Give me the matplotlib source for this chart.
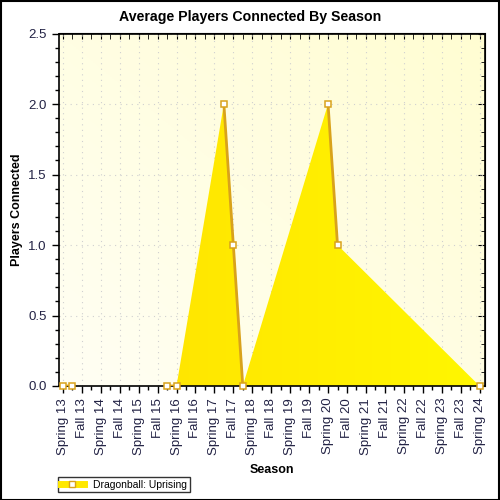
import matplotlib
matplotlib.use("Agg")
import matplotlib.pyplot as plt
import numpy as np
from matplotlib.ticker import MultipleLocator
from matplotlib.colors import LinearSegmentedColormap

plt.rcParams['font.family'] = ['Liberation Sans', 'DejaVu Sans']

# season labels, one per half-year
seasons = ['Spring 13', 'Fall 13', 'Spring 14', 'Fall 14', 'Spring 15', 'Fall 15',
           'Spring 16', 'Fall 16', 'Spring 17', 'Fall 17', 'Spring 18', 'Fall 18',
           'Spring 19', 'Fall 19', 'Spring 20', 'Fall 20', 'Spring 21', 'Fall 21',
           'Spring 22', 'Fall 22', 'Spring 23', 'Fall 23', 'Spring 24']
# sample positions (in season index units) and values
pos = [0, 0.5, 5.5, 6, 8.5, 9, 9.5, 14, 14.5, 22]
players = [0, 0, 0, 0, 2, 1, 0, 2, 1, 0]
series_name = 'Dragonball: Uprising'

fig = plt.figure(figsize=(5, 5), dpi=100)
ax = fig.add_axes([0.117, 0.228, 0.852, 0.705])
ax.set_xlim(-0.23, 22.26)
ax.set_ylim(0, 2.5)

# background gradient
bg = LinearSegmentedColormap.from_list('bg', ['#fffff4', '#fffdd2'])
gx, gy = np.meshgrid(np.linspace(0, 1, 200), np.linspace(0, 1, 200))
ax.imshow((gx + gy) / 2, cmap=bg, extent=[-0.23, 22.26, 0, 2.5], origin='lower',
          aspect='auto', zorder=0, vmin=0, vmax=1)

ax.grid(True, which='major', color='#d0d0d0', linestyle=(0, (1, 4)), linewidth=0.8, zorder=1)

# area with gradient fill
poly = ax.fill_between(pos, players, 0, color='none', zorder=2)
fillmap = LinearSegmentedColormap.from_list('fill', ['#ffe000', '#fff700'])
im = ax.imshow(gx, cmap=fillmap, extent=[-0.23, 22.26, 0, 2.5], origin='lower',
               aspect='auto', zorder=2)
im.set_clip_path(poly.get_paths()[0], transform=ax.transData)

# line only between neighbouring half-season samples
lx, ly = [pos[0]], [players[0]]
for i in range(1, len(pos)):
    if pos[i] - pos[i - 1] > 0.5:
        lx.append(np.nan)
        ly.append(np.nan)
    lx.append(pos[i])
    ly.append(players[i])
ax.plot(lx, ly, color='#d9a21b', linewidth=2, zorder=3)
ax.plot(pos, players, linestyle='none', marker='s', markersize=4.5, markerfacecolor='white',
        markeredgecolor='#d9a21b', markeredgewidth=1.1, zorder=4, clip_on=False)

# legend proxy
ax.plot([], [], color='#ffe800', linewidth=5, marker='s', markersize=4.5,
        markerfacecolor='white', markeredgecolor='#d9a21b', label=series_name)
leg = ax.legend(loc='upper left', bbox_to_anchor=(0.116, 0.046), bbox_transform=fig.transFigure,
                fontsize=7.5, frameon=True, fancybox=False, borderpad=0.25, handlelength=2.2,
                handletextpad=0.9, borderaxespad=0)
leg.get_frame().set_edgecolor('black')
leg.get_frame().set_linewidth(1)

ax.set_xticks(range(len(seasons)))
ax.set_xticklabels(seasons, rotation=90, fontsize=9.5)
ax.xaxis.set_minor_locator(MultipleLocator(0.5))
ax.yaxis.set_major_locator(MultipleLocator(0.5))
ax.yaxis.set_minor_locator(MultipleLocator(0.1))
ax.yaxis.set_major_formatter(matplotlib.ticker.FormatStrFormatter('%.1f'))
ax.tick_params(axis='y', labelsize=9.5, labelcolor='#222244')
ax.tick_params(axis='x', labelcolor='#222244')
ax.tick_params(which='major', direction='out', length=5, width=1)
ax.tick_params(which='minor', direction='out', length=3, width=1)
# inward ticks on top and right
axt = ax.secondary_xaxis('top')
axt.set_xticks(range(len(seasons)))
axt.xaxis.set_minor_locator(MultipleLocator(0.5))
axt.tick_params(which='both', direction='in', length=4, labeltop=False)
axr = ax.secondary_yaxis('right')
axr.yaxis.set_major_locator(MultipleLocator(0.5))
axr.yaxis.set_minor_locator(MultipleLocator(0.1))
axr.tick_params(which='major', direction='in', length=5, labelright=False)
axr.tick_params(which='minor', direction='in', length=3, labelright=False)
for s in ax.spines.values():
    s.set_linewidth(1.2)

fig.suptitle('Average Players Connected By Season', x=0.5, y=0.966, va='center',
             fontsize=10.2, fontweight='bold')
ax.set_xlabel('Season', fontsize=9, fontweight='bold', labelpad=7)
ax.set_ylabel('Players Connected', fontsize=9, fontweight='bold', labelpad=4)

# outer frame
fig.patches.append(plt.Rectangle((0.001, 0.001), 0.997, 0.997, transform=fig.transFigure,
                                 fill=False, edgecolor='black', linewidth=1.5))

fig.savefig('out.png', dpi=100)
